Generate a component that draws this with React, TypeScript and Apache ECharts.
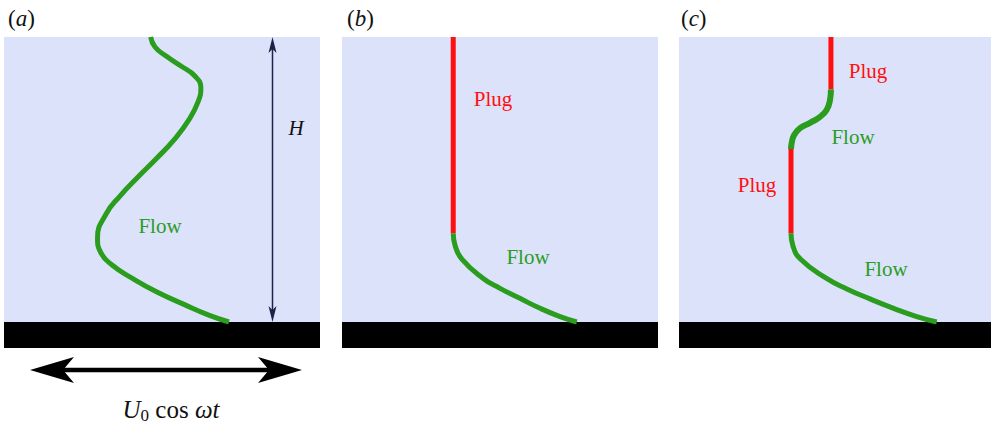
import React, { useEffect, useRef } from "react";
import * as echarts from "echarts";

// Profiles: [u (fraction of panel width), z (height above wall / H)]
const profileA: number[][] = [
  [0.464, 1.0], [0.478, 0.965], [0.513, 0.933], [0.56, 0.898], [0.604, 0.863],
  [0.623, 0.821], [0.614, 0.772], [0.585, 0.709], [0.538, 0.639], [0.481, 0.572],
  [0.424, 0.509], [0.367, 0.442], [0.323, 0.379], [0.296, 0.295], [0.307, 0.242],
  [0.342, 0.2], [0.405, 0.154], [0.484, 0.105], [0.573, 0.06], [0.646, 0.025],
  [0.712, 0.0],
];
const plugB: number[][] = [[0.352, 1.0], [0.352, 0.311]];
const flowB: number[][] = [
  [0.352, 0.311], [0.358, 0.268], [0.38, 0.22], [0.447, 0.153],
  [0.5, 0.118], [0.563, 0.083], [0.627, 0.048], [0.69, 0.019], [0.743, 0.0],
];
const plugC1: number[][] = [[0.487, 1.0], [0.487, 0.816]];
const flowC1: number[][] = [
  [0.487, 0.816], [0.484, 0.779], [0.473, 0.744], [0.452, 0.72], [0.42, 0.699],
  [0.388, 0.68], [0.369, 0.656], [0.361, 0.627], [0.359, 0.607],
];
const plugC2: number[][] = [[0.359, 0.607], [0.359, 0.311]];
const flowC2: number[][] = [
  [0.359, 0.311], [0.365, 0.268], [0.39, 0.22], [0.473, 0.153],
  [0.538, 0.116], [0.612, 0.081], [0.688, 0.048], [0.762, 0.019], [0.826, 0.0],
];

const panelLabels = ["a", "b", "c"];
const GREEN = "#2a9d1f";
const RED = "#ff1010";
const BG = "#dde2fb";
const SERIF = "Liberation Serif";

export default function App() {
  const ref = useRef<HTMLDivElement>(null);
  useEffect(() => {
    if (!ref.current) return;
    const chart = echarts.init(ref.current, undefined, { renderer: "svg" });
    const grids = [
      { left: 4, top: 37, width: 316, height: 285 },
      { left: 342, top: 37, width: 316, height: 285 },
      { left: 679, top: 37, width: 312, height: 285 },
    ].map((g) => ({ ...g, show: true, backgroundColor: BG, borderWidth: 0, containLabel: false }));
    const xAxis = grids.map((_, i) => ({
      type: "value", gridIndex: i, min: 0, max: 1, show: false,
    }));
    const yAxis = grids.map((_, i) => ({
      type: "value", gridIndex: i, min: 0, max: 1, show: false,
    }));
    const line = (data: number[][], idx: number, color: string, width: number, smooth: boolean | number) => ({
      type: "line", xAxisIndex: idx, yAxisIndex: idx, data, smooth, showSymbol: false,
      symbol: "none", lineStyle: { color, width, cap: "butt", join: "round" }, z: 3, silent: true,
    });
    const series = [
      line(profileA, 0, GREEN, 5, 0.5),
      line(plugB, 1, RED, 5, false),
      line(flowB, 1, GREEN, 5, 0.5),
      line(plugC1, 2, RED, 5, false),
      line(flowC1, 2, GREEN, 6, 0.5),
      line(plugC2, 2, RED, 5, false),
      line(flowC2, 2, GREEN, 5, 0.5),
    ];
    const txt = (x: number, y: number, text: string, fill: string, size = 21) => ({
      type: "text", x, y, z: 10,
      style: { text, fill, fontFamily: SERIF, fontSize: size, align: "center", verticalAlign: "middle" },
    });
    const panelLabel = (x: number, l: string) => ({
      type: "text", x, y: 18, z: 10,
      style: {
        text: `{p|(}{i|${l}}{p|)}`,
        verticalAlign: "middle",
        rich: {
          p: { fontFamily: SERIF, fontSize: 23, fill: "#111" },
          i: { fontFamily: SERIF, fontSize: 23, fontStyle: "italic", fill: "#111" },
        },
      },
    });
    const graphic = [
      // walls
      { type: "rect", shape: { x: 4, y: 322, width: 316, height: 26 }, style: { fill: "#000" } },
      { type: "rect", shape: { x: 342, y: 322, width: 316, height: 26 }, style: { fill: "#000" } },
      { type: "rect", shape: { x: 679, y: 322, width: 312, height: 26 }, style: { fill: "#000" } },
      // H arrow
      { type: "line", shape: { x1: 272.5, y1: 45, x2: 272.5, y2: 314 }, style: { stroke: "#1d2248", lineWidth: 1.5 }, z: 5 },
      { type: "polygon", shape: { points: [[272.5, 37], [268.5, 53], [272.5, 49], [276.5, 53]] }, style: { fill: "#1d2248" }, z: 5 },
      { type: "polygon", shape: { points: [[272.5, 322], [268.5, 306], [272.5, 310], [276.5, 306]] }, style: { fill: "#1d2248" }, z: 5 },
      // oscillation arrow
      { type: "line", shape: { x1: 60, y1: 370, x2: 272, y2: 370 }, style: { stroke: "#000", lineWidth: 4.5 } },
      { type: "polygon", shape: { points: [[30, 370], [74, 357], [63, 370], [74, 383]] }, style: { fill: "#000" } },
      { type: "polygon", shape: { points: [[302, 370], [258, 357], [269, 370], [258, 383]] }, style: { fill: "#000" } },
      {
        type: "text", x: 171, y: 409, z: 10,
        style: {
          text: "{i|U}{s|0}{p| cos }{i|ωt}",
          align: "center", verticalAlign: "middle",
          rich: {
            i: { fontFamily: SERIF, fontSize: 25, fontStyle: "italic", fill: "#111" },
            p: { fontFamily: SERIF, fontSize: 25, fill: "#111" },
            s: { fontFamily: SERIF, fontSize: 17, fill: "#111", verticalAlign: "bottom", padding: [13, 0, 0, 0] },
          },
        },
      },
      // labels
      panelLabel(8, panelLabels[0]),
      panelLabel(347, panelLabels[1]),
      panelLabel(681, panelLabels[2]),
      {
        type: "text", x: 296, y: 128, z: 10,
        style: { text: "H", fill: "#111", fontFamily: SERIF, fontStyle: "italic", fontSize: 21, align: "center", verticalAlign: "middle" },
      },
      txt(160, 226, "Flow", GREEN),
      txt(493, 99, "Plug", RED),
      txt(528, 257, "Flow", GREEN),
      txt(868, 71, "Plug", RED),
      txt(853, 137, "Flow", GREEN),
      txt(757, 185, "Plug", RED),
      txt(886, 269, "Flow", GREEN),
    ];
    chart.setOption({
      animation: false,
      grid: grids,
      xAxis,
      yAxis,
      series,
      graphic,
    });
    return () => chart.dispose();
  }, []);
  return (
    <div
      ref={ref}
      style={{ position: "fixed", left: 0, top: 0, width: 991, height: 426, background: "#fff" }}
    />
  );
}
